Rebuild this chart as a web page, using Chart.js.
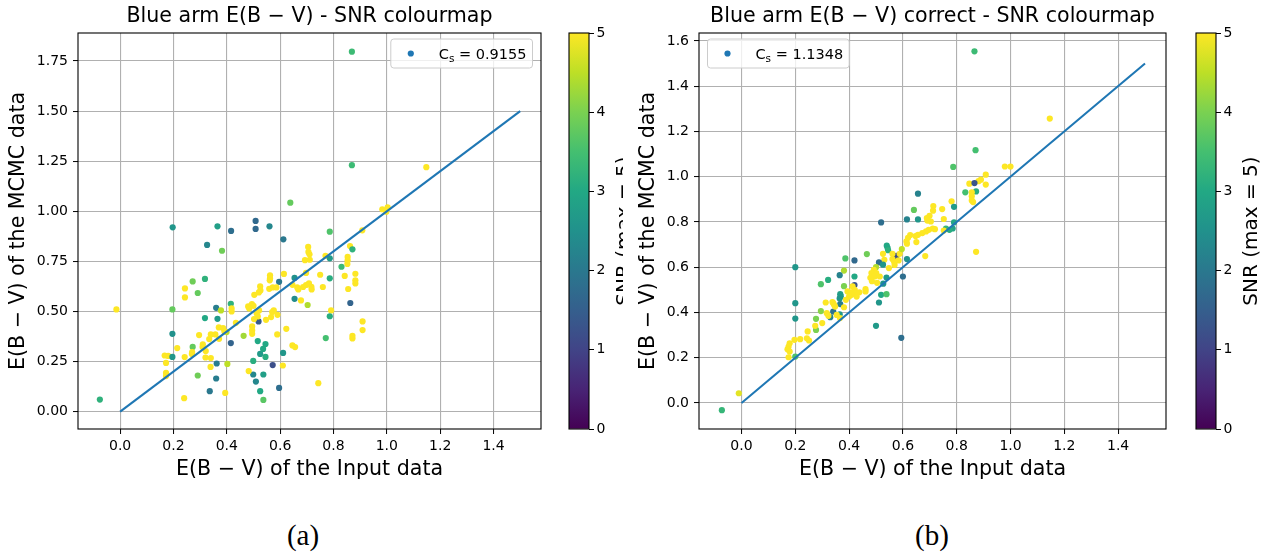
<!DOCTYPE html>
<html>
<head>
<meta charset="utf-8">
<script src="https://cdn.jsdelivr.net/npm/chart.js@4.4.1/dist/chart.umd.min.js"></script>
<style>
  html, body { margin: 0; padding: 0; background: #fff; }
  body { width: 1273px; height: 553px; position: relative; overflow: hidden; }
  canvas { position: absolute; }
  .clip { position: absolute; overflow: hidden; }
  .caption { position: absolute; font-family: "Liberation Serif", serif; font-size: 29px; color: #000;
             transform: translate(-50%, -50%); white-space: nowrap; }
</style>
</head>
<body>
<canvas id="mainA" width="560" height="485" style="left:0;top:0"></canvas>
<div class="clip" style="left:560px;top:0;width:63px;height:485px">
  <canvas id="barA" width="120" height="485" style="left:0;top:0"></canvas>
</div>
<canvas id="mainB" width="555" height="485" style="left:630px;top:0"></canvas>
<canvas id="barB" width="86" height="485" style="left:1187px;top:0"></canvas>
<div class="caption" style="left:303px;top:535px">(a)</div>
<div class="caption" style="left:932px;top:535px">(b)</div>

<script>
// ---- Panel (a): blue-arm E(B-V), input value vs MCMC estimate, with SNR per object ----
const inputA = [
  0.869, 0.869, 1.148, 0.638, 0.983, 1.003, 0.998, 0.908, 0.197, 0.365,
  0.416, 0.508, 0.508, 0.560, 0.612, 0.786, 0.326, 0.382, 0.862, 0.871,
  0.705, 0.706, 0.710, 0.693, 0.711, 0.770, 0.786, 0.853, 0.853, 0.852,
  0.830, 0.882, 0.882, 0.882, 0.842, 0.855, 0.786, 0.750, 0.760, 0.697,
  0.654, 0.614, 0.562, 0.562, 0.561, 0.559, 0.572, 0.525, 0.526, 0.520,
  0.503, 0.596, 0.586, 0.664, 0.686, 0.697, 0.708, 0.717, 0.718, 0.668,
  0.646, 0.654, 0.678, 0.703, 0.863, 0.791, 0.786, 0.909, 0.909, 0.871,
  0.871, 0.771, 0.743, 0.589, 0.623, 0.646, 0.656, 0.611, 0.572, 0.610,
  0.596, 0.537, 0.525, 0.509, 0.499, 0.537, 0.482, 0.499, 0.545, 0.525,
  0.536, 0.545, 0.516, 0.463, 0.495, 0.495, 0.519, 0.570, 0.576, 0.590,
  0.547, 0.566, 0.480, 0.494, 0.500, 0.484, 0.521, 0.512, 0.516, 0.502,
  0.495, 0.434, 0.272, 0.318, 0.243, 0.291, 0.243, -0.014, 0.196, 0.360,
  0.378, 0.415, 0.418, 0.418, 0.318, 0.365, 0.196, 0.296, 0.370, 0.386,
  0.399, 0.340, 0.334, 0.357, 0.371, 0.391, 0.415, 0.310, 0.309, 0.272,
  0.214, 0.270, 0.269, 0.321, 0.320, 0.340, 0.242, 0.167, 0.180, 0.196,
  0.172, 0.339, 0.362, 0.402, 0.172, 0.172, 0.291, 0.360, 0.336, 0.394,
  0.240, -0.076
];
const mcmcA = [
  1.797, 1.230, 1.220, 1.043, 1.010, 1.020, 0.998, 0.905, 0.920, 0.925,
  0.902, 0.952, 0.912, 0.925, 0.860, 0.898, 0.832, 0.803, 0.826, 0.810,
  0.822, 0.797, 0.785, 0.756, 0.758, 0.778, 0.765, 0.772, 0.755, 0.737,
  0.723, 0.688, 0.655, 0.640, 0.677, 0.612, 0.665, 0.683, 0.622, 0.692,
  0.667, 0.687, 0.680, 0.666, 0.655, 0.613, 0.620, 0.625, 0.605, 0.595,
  0.583, 0.648, 0.620, 0.620, 0.622, 0.632, 0.640, 0.623, 0.610, 0.610,
  0.633, 0.563, 0.555, 0.532, 0.542, 0.505, 0.476, 0.450, 0.407, 0.378,
  0.365, 0.367, 0.142, 0.385, 0.413, 0.330, 0.322, 0.293, 0.232, 0.230,
  0.118, 0.058, 0.102, 0.150, 0.185, 0.185, 0.202, 0.253, 0.273, 0.288,
  0.313, 0.337, 0.352, 0.378, 0.405, 0.388, 0.450, 0.497, 0.505, 0.483,
  0.458, 0.472, 0.525, 0.537, 0.528, 0.515, 0.505, 0.490, 0.475, 0.462,
  0.425, 0.443, 0.650, 0.662, 0.615, 0.592, 0.570, 0.510, 0.510, 0.518,
  0.505, 0.538, 0.515, 0.500, 0.467, 0.463, 0.388, 0.382, 0.420, 0.417,
  0.397, 0.385, 0.362, 0.385, 0.363, 0.400, 0.342, 0.335, 0.322, 0.323,
  0.317, 0.297, 0.288, 0.302, 0.270, 0.267, 0.272, 0.280, 0.278, 0.273,
  0.243, 0.223, 0.240, 0.238, 0.193, 0.177, 0.180, 0.165, 0.102, 0.093,
  0.067, 0.060
];
const snrA = [
  3.4, 3.4, 5, 3.8, 5, 5, 5, 5, 2.6, 2.8,
  1.8, 1.7, 1.7, 2.3, 2.0, 3.6, 2.3, 3.9, 5, 3.2,
  5, 5, 5, 5, 5, 5, 2.7, 5, 5, 5,
  3.4, 5, 5, 5, 5, 5, 3.1, 5, 5, 5,
  2.5, 5, 5, 5, 5, 5, 5, 5, 5, 5,
  5, 2.0, 5, 5, 5, 5, 5, 5, 5, 5,
  5, 2.4, 5, 4.4, 1.6, 5, 3.1, 5, 5, 5,
  5, 3.5, 5, 5, 5, 5, 5, 2.6, 1.2, 5,
  1.8, 3.7, 3.0, 2.3, 2.3, 2.8, 5, 3.1, 3.1, 2.7,
  3.0, 3.0, 3.0, 4.3, 5, 5, 1.4, 5, 5, 5,
  5, 5, 5, 5, 5, 5, 5, 5, 5, 5,
  5, 5, 3.9, 3.2, 5, 3.8, 5, 5, 3.8, 2.1,
  4.5, 3.2, 5, 5, 3.0, 2.7, 2.5, 5, 5, 5,
  4.5, 5, 5, 5, 5, 5, 1.6, 5, 5, 3.8,
  5, 5, 5, 5, 5, 5, 5, 5, 5, 2.6,
  5, 5, 2.1, 4.5, 5, 5, 3.9, 2.1, 2.0, 5,
  5, 3.2
];

// ---- Panel (b): corrected blue-arm E(B-V) ----
const inputB = [
  0.866, 1.146, 0.870, 0.787, 0.979, 1.000, 0.908, 0.908, 0.890, 0.881,
  0.847, 0.866, 0.872, 0.832, 0.856, 0.856, 0.856, 0.861, 0.781, 0.790,
  0.656, 0.641, 0.713, 0.746, 0.712, 0.699, 0.689, 0.704, 0.691, 0.615,
  0.656, 0.519, 0.752, 0.790, 0.785, 0.773, 0.760, 0.752, 0.711, 0.719,
  0.696, 0.686, 0.672, 0.656, 0.647, 0.627, 0.619, 0.613, 0.615, 0.650,
  0.683, 0.872, 0.615, 0.600, 0.540, 0.543, 0.545, 0.576, 0.561, 0.588,
  0.584, 0.567, 0.569, 0.561, 0.526, 0.531, 0.548, 0.596, 0.466, 0.420,
  0.511, 0.526, 0.500, 0.539, 0.492, 0.483, 0.501, 0.495, 0.479, 0.485,
  0.504, 0.514, 0.527, 0.420, 0.420, 0.413, 0.421, 0.406, 0.424, 0.438,
  0.461, 0.519, 0.539, 0.511, 0.500, 0.594, 0.386, 0.381, 0.365, 0.322,
  0.295, 0.381, 0.200, 0.200, 0.200, 0.367, 0.369, 0.365, 0.367, 0.341,
  0.330, 0.365, 0.295, 0.277, 0.277, 0.313, 0.341, 0.348, 0.317, 0.323,
  0.354, 0.300, 0.274, 0.246, 0.243, 0.251, 0.218, 0.197, 0.179, 0.175,
  0.171, 0.179, 0.175, 0.394, 0.409, 0.428, 0.400, 0.388, 0.381, 0.366,
  0.461, 0.344, 0.338, 0.200, -0.010, -0.073
];
const mcmcB = [
  1.554, 1.257, 1.117, 1.043, 1.045, 1.045, 1.009, 0.965, 0.987, 0.980,
  0.969, 0.972, 0.935, 0.931, 0.931, 0.914, 0.895, 0.888, 0.891, 0.867,
  0.925, 0.853, 0.870, 0.857, 0.850, 0.827, 0.817, 0.802, 0.806, 0.811,
  0.811, 0.798, 0.813, 0.798, 0.771, 0.765, 0.771, 0.762, 0.771, 0.768,
  0.765, 0.758, 0.751, 0.743, 0.738, 0.742, 0.730, 0.714, 0.704, 0.711,
  0.649, 0.668, 0.636, 0.559, 0.695, 0.685, 0.675, 0.650, 0.659, 0.659,
  0.630, 0.625, 0.610, 0.636, 0.659, 0.633, 0.596, 0.680, 0.658, 0.630,
  0.621, 0.611, 0.600, 0.554, 0.588, 0.574, 0.574, 0.559, 0.553, 0.538,
  0.531, 0.559, 0.527, 0.559, 0.521, 0.515, 0.500, 0.489, 0.484, 0.489,
  0.503, 0.478, 0.481, 0.444, 0.341, 0.288, 0.639, 0.585, 0.565, 0.544,
  0.525, 0.516, 0.600, 0.441, 0.373, 0.481, 0.472, 0.462, 0.437, 0.404,
  0.379, 0.392, 0.406, 0.372, 0.323, 0.444, 0.441, 0.426, 0.397, 0.385,
  0.389, 0.353, 0.341, 0.316, 0.286, 0.276, 0.282, 0.279, 0.264, 0.249,
  0.237, 0.227, 0.202, 0.493, 0.478, 0.470, 0.470, 0.456, 0.423, 0.375,
  0.493, 0.434, 0.446, 0.205, 0.043, -0.032
];
const snrB = [
  3.4, 5, 3.5, 3.6, 5, 5, 5, 5, 5, 5,
  5, 1.3, 3.1, 3.5, 5, 5, 5, 5, 5, 2.7,
  2.2, 3.8, 5, 5, 5, 5, 5, 5, 5, 2.2,
  2.6, 1.8, 5, 3.0, 2.9, 3.1, 3.3, 5, 5, 5,
  5, 5, 5, 5, 5, 5, 5, 5, 5, 5,
  5, 5, 2.5, 1.8, 3.0, 3.0, 3.2, 1.2, 5, 5,
  5, 5, 5, 5, 5, 5, 5, 4.5, 3.9, 1.7,
  1.8, 2.6, 4.4, 2.7, 5, 5, 5, 5, 5, 5,
  5, 5, 2.6, 3.0, 1.3, 5, 5, 5, 5, 5,
  5, 3.0, 3.6, 2.6, 2.7, 1.8, 3.6, 4.4, 2.2, 3.1,
  3.6, 4.0, 2.6, 2.6, 2.6, 2.8, 2.7, 2.6, 2.1, 1.9,
  2.2, 2.7, 4.1, 4.0, 4.0, 5, 5, 5, 5, 5,
  5, 5, 5, 5, 5, 5, 5, 5, 5, 5,
  5, 5, 5, 5, 5, 5, 5, 5, 5, 5,
  5, 5, 5, 3.6, 4.8, 3.3
];

// ---- shared text, ticks and reference line ----
const titleA = 'Blue arm E(B \u2212 V) - SNR colourmap';
const titleB = 'Blue arm E(B \u2212 V) correct - SNR colourmap';
const xLabel = 'E(B \u2212 V) of the Input data';
const yLabel = 'E(B \u2212 V) of the MCMC data';
const cbLabel = 'SNR (max = 5)';
const legendA = 'C_s = 0.9155';
const legendB = 'C_s = 1.1348';
const xTicks = [0, 0.2, 0.4, 0.6, 0.8, 1.0, 1.2, 1.4];
const yTicksA = [0, 0.25, 0.5, 0.75, 1.0, 1.25, 1.5, 1.75];
const yTicksB = [0, 0.2, 0.4, 0.6, 0.8, 1.0, 1.2, 1.4, 1.6];
const cbTicks = [0, 1, 2, 3, 4, 5];
const oneToOne = [0, 1.5];
const snrMax = 5;

const LINE_BLUE = '#1f77b4';
const LABEL_SIZE = 20.6;
const VIRIDIS = ['#440154', '#482475', '#414487', '#355f8d', '#2a788e', '#21918c',
                 '#22a884', '#44bf70', '#7ad151', '#bddf26', '#fde725'];

function hexRgb(h) {
  const n = parseInt(h.slice(1), 16);
  return [(n >> 16) & 255, (n >> 8) & 255, n & 255];
}
function viridis(v) {
  const t = Math.min(Math.max(v / snrMax, 0), 1) * (VIRIDIS.length - 1);
  const i = Math.min(Math.floor(t), VIRIDIS.length - 2);
  const f = t - i;
  const a = hexRgb(VIRIDIS[i]), b = hexRgb(VIRIDIS[i + 1]);
  const c = a.map((ch, k) => Math.round(ch + (b[k] - ch) * f));
  return `rgb(${c[0]},${c[1]},${c[2]})`;
}
const toPoints = (xs, ys) => xs.map((x, i) => ({x, y: ys[i]}));

Chart.defaults.font.family = "'DejaVu Sans', sans-serif";
Chart.defaults.color = '#000';

// axes box drawn around the plotting area
const frame = {
  id: 'frame',
  afterDraw(chart) {
    const {left, top, right, bottom} = chart.chartArea;
    const ctx = chart.ctx;
    ctx.save();
    ctx.strokeStyle = '#000';
    ctx.lineWidth = 1.1;
    ctx.strokeRect(left, top, right - left, bottom - top);
    ctx.restore();
  }
};

// boxed legend inside a corner of the axes, label "C_s = ..." rendered with a subscript
const cornerLegend = {
  id: 'cornerLegend',
  afterDraw(chart, args, opts) {
    const ds = chart.data.datasets[opts.datasetIndex];
    const m = /^(.*?)_(\S)(.*)$/.exec(ds.label) || [null, ds.label, '', ''];
    const head = m[1], sub = m[2], tail = m[3];
    const ctx = chart.ctx, a = chart.chartArea;
    const mainFont = "14.5px 'DejaVu Sans'", subFont = "10.5px 'DejaVu Sans'";
    ctx.save();
    ctx.font = mainFont;
    const wHead = ctx.measureText(head).width, wTail = ctx.measureText(tail).width;
    ctx.font = subFont;
    const wSub = ctx.measureText(sub).width;
    const w = 48 + wHead + wSub + wTail + 6, h = 29;
    const x0 = opts.align === 'right' ? a.right - 8.5 - w : a.left + 8.5;
    const y0 = a.top + 6;
    const r = 3;
    ctx.beginPath();
    ctx.moveTo(x0 + r, y0);
    ctx.lineTo(x0 + w - r, y0);
    ctx.arcTo(x0 + w, y0, x0 + w, y0 + r, r);
    ctx.lineTo(x0 + w, y0 + h - r);
    ctx.arcTo(x0 + w, y0 + h, x0 + w - r, y0 + h, r);
    ctx.lineTo(x0 + r, y0 + h);
    ctx.arcTo(x0, y0 + h, x0, y0 + h - r, r);
    ctx.lineTo(x0, y0 + r);
    ctx.arcTo(x0, y0, x0 + r, y0, r);
    ctx.closePath();
    ctx.fillStyle = 'rgba(255,255,255,0.8)';
    ctx.fill();
    ctx.strokeStyle = '#cccccc';
    ctx.lineWidth = 1;
    ctx.stroke();
    ctx.beginPath();
    ctx.arc(x0 + 20, y0 + h / 2, 3.1, 0, Math.PI * 2);
    ctx.fillStyle = opts.markerColor;
    ctx.fill();
    const base = y0 + h / 2 + 5.3;
    ctx.fillStyle = '#000';
    ctx.textAlign = 'left';
    ctx.textBaseline = 'alphabetic';
    let tx = x0 + 48;
    ctx.font = mainFont; ctx.fillText(head, tx, base); tx += wHead;
    ctx.font = subFont;  ctx.fillText(sub, tx, base + 3); tx += wSub;
    ctx.font = mainFont; ctx.fillText(tail, tx, base);
    ctx.restore();
  }
};

// rotated colour-bar caption, reading bottom to top
const cbTitle = {
  id: 'cbTitle',
  afterDraw(chart, args, opts) {
    const a = chart.chartArea, ctx = chart.ctx;
    ctx.save();
    ctx.translate(a.right + opts.offset, (a.top + a.bottom) / 2);
    ctx.rotate(-Math.PI / 2);
    ctx.font = "20px 'DejaVu Sans'";
    ctx.fillStyle = '#000';
    ctx.textAlign = 'center';
    ctx.textBaseline = 'middle';
    ctx.fillText(opts.text, 0, 0);
    ctx.restore();
  }
};

function scatterPanel(id, cfg) {
  return new Chart(document.getElementById(id), {
    type: 'scatter',
    data: {
      datasets: [
        {
          label: 'identity',
          data: oneToOne.map(v => ({x: v, y: v})),
          showLine: true,
          borderColor: LINE_BLUE,
          borderWidth: 2.1,
          pointRadius: 0,
          order: 0
        },
        {
          label: cfg.legend,
          data: toPoints(cfg.xs, cfg.ys),
          pointRadius: 3.1,
          borderWidth: 0,
          pointBorderWidth: 0,
          pointBackgroundColor: cfg.snr.map(viridis),
          backgroundColor: cfg.snr.map(viridis),
          order: 1
        }
      ]
    },
    options: {
      responsive: false,
      animation: false,
      devicePixelRatio: 1,
      events: [],
      layout: {padding: {left: 0, top: 0, right: 19, bottom: 0}},
      plugins: {
        legend: {display: false},
        tooltip: {enabled: false},
        title: {
          display: true, text: cfg.title, fullSize: false, color: '#000',
          font: {size: LABEL_SIZE, weight: 'normal', lineHeight: 1},
          padding: {top: 6.2, bottom: 6.2}
        },
        cornerLegend: {align: cfg.legendAlign, datasetIndex: 1, markerColor: LINE_BLUE}
      },
      scales: {
        x: {
          type: 'linear', min: -0.158, max: 1.578,
          afterBuildTicks: s => { s.ticks = xTicks.map(v => ({value: v})); },
          ticks: {autoSkip: false, maxRotation: 0, font: {size: 14}, padding: 3.5, color: '#000',
                  callback: v => v.toFixed(1)},
          grid: {color: '#b0b0b0', lineWidth: 1.1, tickColor: '#000', tickLength: 5, tickWidth: 1},
          border: {display: false},
          title: {display: true, text: xLabel, color: '#000', font: {size: LABEL_SIZE, lineHeight: 1},
                  padding: {top: 0, bottom: 4.7}},
          afterFit: s => { s.height = 56; }
        },
        y: {
          type: 'linear', min: cfg.yMin, max: cfg.yMax,
          afterBuildTicks: s => { s.ticks = cfg.yTicks.map(v => ({value: v})); },
          ticks: {autoSkip: false, font: {size: 14}, padding: 5, color: '#000',
                  callback: v => v.toFixed(cfg.yDigits)},
          grid: {color: '#b0b0b0', lineWidth: 1.1, tickColor: '#000', tickLength: 5, tickWidth: 1},
          border: {display: false},
          title: {display: true, text: yLabel, color: '#000', font: {size: LABEL_SIZE, lineHeight: 1},
                  padding: {top: 8.1, bottom: 0}},
          afterFit: s => { s.width = cfg.yAxisWidth; }
        }
      }
    },
    plugins: [frame, cornerLegend]
  });
}

function colourBar(id, axisWidth) {
  return new Chart(document.getElementById(id), {
    type: 'bar',
    data: {
      labels: ['SNR'],
      datasets: [{
        data: [[0, snrMax]],
        borderWidth: 0,
        barPercentage: 1,
        categoryPercentage: 1,
        backgroundColor(c) {
          const chart = c.chart, y = chart.scales.y;
          if (!y || !chart.chartArea) return VIRIDIS[5];
          const g = chart.ctx.createLinearGradient(0, y.getPixelForValue(0), 0, y.getPixelForValue(snrMax));
          VIRIDIS.forEach((col, i) => g.addColorStop(i / (VIRIDIS.length - 1), col));
          return g;
        }
      }]
    },
    options: {
      responsive: false,
      animation: false,
      devicePixelRatio: 1,
      events: [],
      layout: {padding: {left: 9, top: 33, right: 0, bottom: 56}},
      plugins: {
        legend: {display: false},
        tooltip: {enabled: false},
        cbTitle: {text: cbLabel, offset: 36}
      },
      scales: {
        x: {display: false},
        y: {
          position: 'right', min: 0, max: snrMax,
          afterBuildTicks: s => { s.ticks = cbTicks.map(v => ({value: v})); },
          ticks: {font: {size: 14}, padding: 2.5, color: '#000', callback: v => String(v)},
          grid: {drawOnChartArea: false, drawTicks: true, tickLength: 5, tickColor: '#000', tickWidth: 1},
          border: {display: false},
          afterFit: s => { s.width = axisWidth; }
        }
      }
    },
    plugins: [frame, cbTitle]
  });
}

scatterPanel('mainA', {
  xs: inputA, ys: mcmcA, snr: snrA, title: titleA, legend: legendA, legendAlign: 'right',
  yMin: -0.087, yMax: 1.89, yTicks: yTicksA, yDigits: 2, yAxisWidth: 78
});
scatterPanel('mainB', {
  xs: inputB, ys: mcmcB, snr: snrB, title: titleB, legend: legendB, legendAlign: 'left',
  yMin: -0.115, yMax: 1.635, yTicks: yTicksB, yDigits: 1, yAxisWidth: 69
});
colourBar('barA', 91);
colourBar('barB', 57);
</script>
</body>
</html>
